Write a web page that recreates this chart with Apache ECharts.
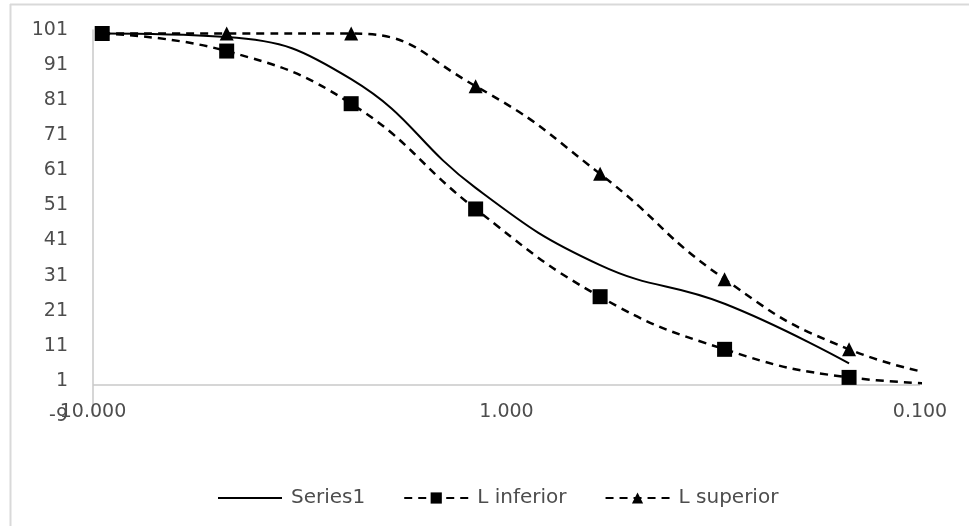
<!DOCTYPE html>
<html>
<head>
<meta charset="utf-8">
<script src="https://cdn.jsdelivr.net/npm/echarts@6/dist/echarts.min.js"></script>
<style>
html,body{margin:0;padding:0;background:#fff;}
#chart{width:969px;height:526px;}
</style>
</head>
<body>
<div id="chart"></div>
<script>
// ---- data ----
const sizes = [9.5, 4.75, 2.375, 1.1875, 0.59375, 0.296875, 0.1484375];
const series1 = [100, 99, 87, 56, 34, 23, 6];
const lInferior = [100, 95, 80, 50, 25, 10, 2];
const lSuperior = [100, 100, 100, 85, 60, 30, 10];
// continuation points beyond the right edge (clipped by the plot area)
const extraSize = 0.0742;
const lInferiorExtra = 0;
const lSuperiorExtra = 1;
const xTicks = [10, 1, 0.1];
const yMin = -9, yMax = 101, yStep = 10;

const FONT = '"DejaVu Sans", sans-serif';
const TXT = '#4d4d4d';

function pairs(xs, ys) { return xs.map((x, i) => [x, ys[i]]); }
function withExtra(xs, ys, ex, ey) {
  const d = pairs(xs, ys);
  d.push({ value: [ex, ey], symbol: 'none' });
  return d;
}

const chart = echarts.init(document.getElementById('chart'), null, { renderer: 'canvas' });
chart.setOption({
  animation: false,
  backgroundColor: '#ffffff',
  textStyle: { fontFamily: FONT },
  grid: { left: 93, right: 49, top: 30, bottom: 110, containLabel: false },
  xAxis: {
    type: 'log', logBase: 10, min: 0.1, max: 10, inverse: true,
    axisLine: { show: false }, axisTick: { show: false }, splitLine: { show: false },
    axisLabel: {
      color: TXT, fontFamily: FONT, fontSize: 19, margin: -13,
      formatter: v => (xTicks.some(t => Math.abs(t - v) < 1e-9) ? v.toFixed(3) : '')
    }
  },
  yAxis: {
    type: 'value', min: yMin, max: yMax, interval: yStep,
    axisLine: { show: true, onZero: false, lineStyle: { color: '#c8c8c8', width: 1.5 } },
    axisTick: { show: false }, splitLine: { show: false },
    axisLabel: { color: TXT, fontFamily: FONT, fontSize: 19, margin: 25 }
  },
  legend: {
    data: [
      { name: 'Series1', itemStyle: { opacity: 0 } },
      { name: 'L inferior' },
      { name: 'L superior' }
    ],
    left: 212, top: 483,
    itemWidth: 64, itemHeight: 14, itemGap: 38,
    textStyle: { color: TXT, fontFamily: FONT, fontSize: 20, padding: [0, 0, 0, 4] }
  },
  graphic: [
    { type: 'line', shape: { x1: 10.5, y1: 4, x2: 10.5, y2: 526 }, style: { stroke: '#d9d9d9', lineWidth: 2 } },
    { type: 'line', shape: { x1: 10, y1: 4.5, x2: 969, y2: 4.5 }, style: { stroke: '#d9d9d9', lineWidth: 2 } }
  ],
  series: [
    {
      name: 'Series1', type: 'line', smooth: 0.45, clip: true,
      showSymbol: false, symbol: 'none',
      lineStyle: { color: '#000', width: 2 },
      itemStyle: { color: '#000' },
      data: pairs(sizes, series1),
      markLine: {
        silent: true, symbol: 'none', label: { show: false },
        lineStyle: { color: '#c8c8c8', width: 1.5, type: 'solid' },
        data: [{ yAxis: 0 }]
      },
      z: 3
    },
    {
      name: 'L superior', type: 'line', smooth: 0.5, clip: true,
      symbol: 'triangle', symbolSize: 14,
      lineStyle: { color: '#000', width: 2.5, type: [8, 6] },
      itemStyle: { color: '#000' },
      data: withExtra(sizes, lSuperior, extraSize, lSuperiorExtra),
      z: 4
    },
    {
      name: 'L inferior', type: 'line', smooth: 0.45, clip: true,
      symbol: 'rect', symbolSize: 15,
      lineStyle: { color: '#000', width: 2.5, type: [8, 6] },
      itemStyle: { color: '#000' },
      data: withExtra(sizes, lInferior, extraSize, lInferiorExtra),
      z: 5
    }
  ]
});
</script>
</body>
</html>
